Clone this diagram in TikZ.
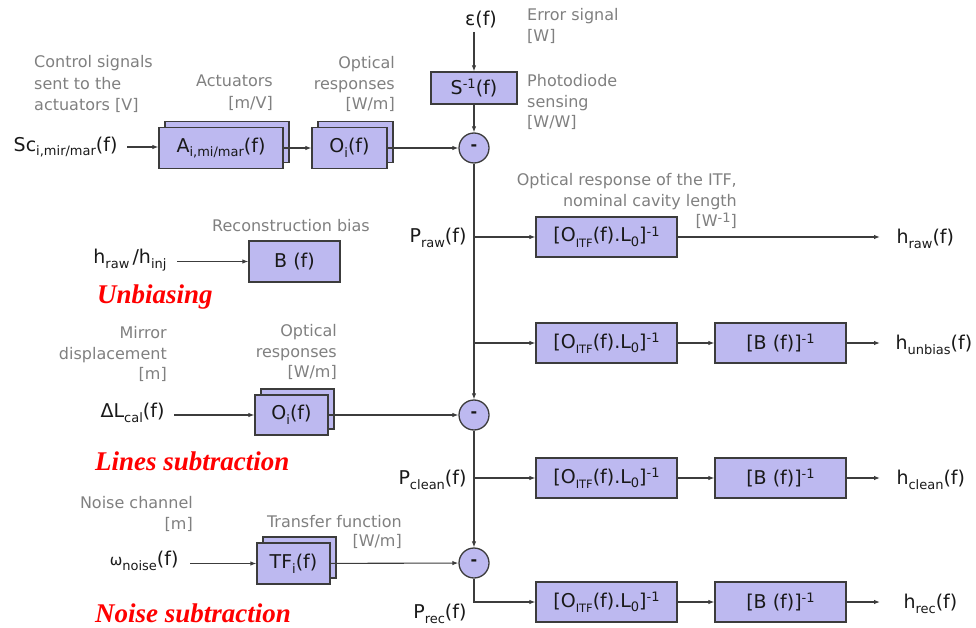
\documentclass[tikz,border=0pt]{standalone}
\usepackage{fontspec}
\setmainfont{DejaVu Sans}
\newfontfamily\redserif{Liberation Serif}
\usetikzlibrary{arrows.meta,shadows}
\definecolor{boxfill}{RGB}{189,185,240}
\definecolor{edge}{RGB}{60,60,60}
\definecolor{txt}{RGB}{25,25,25}
\definecolor{gr}{RGB}{128,128,128}
\definecolor{sectred}{RGB}{255,0,0}
\newcommand{\mylo}[1]{\raisebox{-0.45ex}{\fontsize{13}{13}\selectfont #1}}
\newcommand{\myhi}[1]{\raisebox{0.55ex}{\fontsize{13}{13}\selectfont #1}}
\newcommand{\mytiny}[1]{\raisebox{-0.5ex}{\fontsize{11.5}{11.5}\selectfont #1}}
\begin{document}
\begin{tikzpicture}[x=1pt,y=-1pt,
  every node/.style={font=\fontsize{19}{23}\selectfont, text=txt},
  blk/.style={draw=edge, fill=boxfill, line width=1.3pt, minimum height=41pt, inner sep=0pt},
  shblk/.style={blk, copy shadow={shadow xshift=6pt, shadow yshift=6pt}},
  sumnode/.style={circle, draw=edge, fill=boxfill, line width=1.3pt, minimum size=30pt, inner sep=0pt, font=\fontsize{16}{16}\selectfont\bfseries},
  note/.style={text=gr, font=\fontsize{16}{20.5}\selectfont, inner sep=0pt},
  sect/.style={text=sectred, font=\fontsize{27}{30}\selectfont\redserif\bfseries\itshape, inner sep=0pt, anchor=west},
  arr/.style={-{Latex[length=6pt,width=4.5pt]}, line width=1.1pt, draw=edge},
  ln/.style={line width=1.1pt, draw=edge}]
\useasboundingbox (0,0) rectangle (976,628);

% top chain
\node (eps) at (481,20) {ε(f)};
\node[blk, minimum width=86pt, minimum height=32pt] (S) at (474,88) {S\myhi{-1}(f)};
\node[sumnode] (c1) at (474,148) {-};
\node[anchor=east] (sc) at (121,147) {Sc\mylo{i,mir/mar}(f)};
\node[shblk, minimum width=124pt] (A) at (221,148) {A\mylo{i,mi/mar}(f)};
\node[shblk, minimum width=75pt] (O1) at (349.5,148) {O\mylo{i}(f)};
\draw[arr] (eps.south -| S.north) -- (S.north);
\draw[arr] (S) -- (c1);
\draw[arr, shorten <=6pt] (sc.east) -- (sc.east -| A.west);
\draw[arr] (A) -- (O1);
\draw[arr] (O1) -- (c1);

\node[note, anchor=north west, align=left] (n1) at (527,8.5) {Error signal\\{}[W]};
\node[note, anchor=north west, align=left] (n2) at (527,74.5) {Photodiode\\sensing\\{}[W/W]};
\node[note, anchor=north west, align=left, font=\fontsize{16}{21.5}\selectfont] (n3) at (34,55.5) {Control signals\\sent to the\\actuators [V]};
\node[note, anchor=north east, align=right, font=\fontsize{16}{22}\selectfont] (n4) at (273,74.5) {Actuators\\{}[m/V]};
\node[note, anchor=north east, align=right] (n5) at (395,56.5) {Optical\\responses\\{}[W/m]};

% main vertical
\node[sumnode] (c2) at (474,415) {-};
\node[sumnode] (c3) at (474,563) {-};
\draw[arr] (c1) -- (c2);
\draw[arr] (c2) -- (c3);

% row 1
\node[anchor=east] (praw) at (470,238) {P\mylo{raw}(f)};
\node[blk, minimum width=141pt, minimum height=40pt] (r1) at (606.5,237) {[O\mytiny{ITF}(f).L\mylo{0}]\myhi{-1}};
\node[anchor=west] (hraw) at (893,239) {h\mylo{raw}(f)};
\draw[arr] (c1 |- r1) -- (r1);
\draw[arr, shorten >=13pt] (r1.east) -- (r1.east -| hraw.west);
\node[note, anchor=north east, align=right] (n6) at (737,173.5) {Optical response of the ITF,\\nominal cavity length\\{}[W\myhi{-1}]};

% row 2
\node[blk, minimum width=141pt, minimum height=40pt] (r2a) at (606.5,343) {[O\mytiny{ITF}(f).L\mylo{0}]\myhi{-1}};
\node[blk, minimum width=131pt, minimum height=40pt] (r2b) at (780.5,343) {[B (f)]\myhi{-1}};
\node[anchor=west] (hunb) at (892,345) {h\mylo{unbias}(f)};
\draw[arr] (c1 |- r2a) -- (r2a);
\draw[arr] (r2a) -- (r2b);
\draw[arr, shorten >=12pt] (r2b.east) -- (r2b.east -| hunb.west);

% unbiasing
\node[anchor=east] (hin) at (170,260) {h\mylo{raw}\,/h\mylo{inj}};
\node[blk, minimum width=91pt] (Bb) at (294.5,261.5) {B (f)};
\draw[arr, shorten <=7pt] (hin.east |- Bb) -- (Bb);
\node[note, anchor=north] (n7) at (291,219.5) {Reconstruction bias};
\node[sect] (u1) at (97,297) {Unbiasing};

% lines subtraction
\node[anchor=east] (dl) at (168,413) {ΔL\mylo{cal}(f)};
\node[shblk, minimum width=73pt, minimum height=40pt] (O2) at (291.5,415) {O\mylo{i}(f)};
\draw[arr, shorten <=6pt] (dl.east |- O2) -- (O2);
\draw[arr] (O2) -- (c2);
\node[note, anchor=north east, align=right] (n8) at (167,326.5) {Mirror\\displacement\\{}[m]};
\node[note, anchor=north east, align=right] (n9) at (337,324.5) {Optical\\responses\\{}[W/m]};
\node[sect] (u2) at (95,461) {Lines subtraction};

% row 3
\node[anchor=east] (pcl) at (470,480) {P\mylo{clean}(f)};
\node[blk, minimum width=141pt, minimum height=40pt] (r3a) at (606.5,478) {[O\mytiny{ITF}(f).L\mylo{0}]\myhi{-1}};
\node[blk, minimum width=131pt, minimum height=40pt] (r3b) at (780.5,478) {[B (f)]\myhi{-1}};
\node[anchor=west] (hcl) at (893,480) {h\mylo{clean}(f)};
\draw[arr] (c2 |- r3a) -- (r3a);
\draw[arr] (r3a) -- (r3b);
\draw[arr, shorten >=13pt] (r3b.east) -- (r3b.east -| hcl.west);

% noise subtraction
\node[anchor=east] (om) at (182,561) {{\fontsize{15}{15}\selectfont ω}\mylo{noise}(f)};
\node[shblk, minimum width=73pt] (TF) at (293.5,563.5) {TF\mylo{i}(f)};
\draw[arr, shorten <=8pt] (om.east |- TF) -- (TF);
\draw[arr] (TF) -- (c3);
\node[note, anchor=north east, align=right] (n10) at (193,496.5) {Noise channel\\{}[m]};
\node[note, anchor=north east, align=right, font=\fontsize{16}{19.5}\selectfont] (n11) at (402,515) {Transfer function\\{}[W/m]};
\node[sect] (u3) at (95,613) {Noise subtraction};

% row 4
\node[anchor=east] (prec) at (470,614) {P\mylo{rec}(f)};
\node[blk, minimum width=141pt, minimum height=40pt] (r4a) at (606.5,602) {[O\mytiny{ITF}(f).L\mylo{0}]\myhi{-1}};
\node[blk, minimum width=131pt, minimum height=40pt] (r4b) at (780.5,602) {[B (f)]\myhi{-1}};
\node[anchor=west] (hrec) at (900,604) {h\mylo{rec}(f)};
\draw[arr] (c3.south) |- (r4a.west);
\draw[arr] (r4a) -- (r4b);
\draw[arr, shorten >=20pt] (r4b.east) -- (r4b.east -| hrec.west);
\end{tikzpicture}
\end{document}
